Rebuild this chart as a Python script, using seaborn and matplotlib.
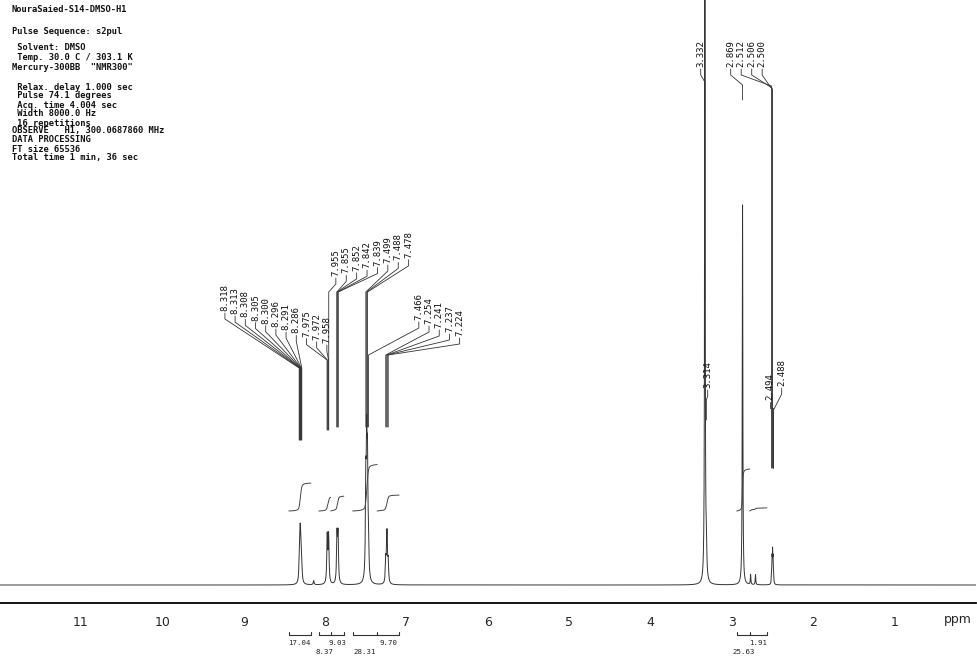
import numpy as np
import pandas as pd
import matplotlib
matplotlib.use("Agg")
import matplotlib.pyplot as plt
import seaborn as sns

sns.set_style("white")
plt.rcParams['font.family'] = ['DejaVu Sans']

# ---- acquisition header ----
header_lines = [
    "NouraSaied-S14-DMSO-H1",
    "Pulse Sequence: s2pul",
    " Solvent: DMSO",
    " Temp. 30.0 C / 303.1 K",
    "Mercury-300BB  \"NMR300\"",
    " Relax. delay 1.000 sec",
    " Pulse 74.1 degrees",
    " Acq. time 4.004 sec",
    " Width 8000.0 Hz",
    " 16 repetitions",
    "OBSERVE   H1, 300.0687860 MHz",
    "DATA PROCESSING",
    "FT size 65536",
    "Total time 1 min, 36 sec",
]
header_y = [10, 31, 47, 57, 67, 87, 96, 105, 114, 123, 131, 140, 149, 158]

# ---- peaks (ppm, height above baseline, half width) ----
peak_ppm = [8.318, 8.313, 8.308, 8.305, 8.300, 8.296, 8.291, 8.286, 8.14,
            7.975, 7.972, 7.958, 7.955,
            7.855, 7.852, 7.842, 7.839,
            7.499, 7.488, 7.478, 7.466,
            7.254, 7.241, 7.237, 7.224,
            3.332, 3.314, 2.869, 2.77, 2.71,
            2.512, 2.506, 2.500, 2.494, 2.488]
peak_height = [10, 15, 19, 21, 19, 15, 12, 9, 4,
               24, 26, 26, 24,
               24, 26, 26, 24,
               90, 120, 105, 30,
               22, 28, 28, 20,
               700, 30, 380, 10, 10,
               9, 22, 28, 22, 9]
peak_hwhm = [0.006] * 25 + [0.004, 0.006, 0.004, 0.004, 0.004] + [0.003] * 5

# ---- integral regions ----
int_start = [8.445, 8.076, 7.93, 7.66, 7.36, 2.94, 2.78]
int_end = [8.175, 7.93, 7.77, 7.36, 7.09, 2.78, 2.57]
int_value = [17.04, 8.37, 9.03, 28.31, 9.70, 25.63, 1.91]

# ---- peak label groups ----
label_groups = [
    dict(labels=["8.318", "8.313", "8.308", "8.305", "8.300", "8.296", "8.291", "8.286",
                 "7.975", "7.972", "7.958"],
         x0=225, dx=10.2, top0=283, dtop=3.2,
         conv=[368] * 8 + [360] * 3, end=[440] * 8 + [430] * 3),
    dict(labels=["7.955", "7.855", "7.852", "7.842", "7.839", "7.499", "7.488", "7.478"],
         x0=336, dx=10.4, top0=248, dtop=-2.6,
         conv=[292] * 8, end=[430] + [427] * 7),
    dict(labels=["7.466", "7.254", "7.241", "7.237", "7.224"],
         x0=419, dx=10.2, top0=292, dtop=4,
         conv=[355] * 5, end=[427] * 5),
    dict(labels=["3.332"], x0=701, dx=0, top0=39, dtop=0, conv=[82], end=[300]),
    dict(labels=["2.869", "2.512", "2.506", "2.500"],
         x0=731, dx=10.5, top0=39, dtop=0,
         conv=[85, 86, 88, 90], end=[100, 468, 468, 468]),
    dict(labels=["3.314"], x0=708, dx=0, top0=360, dtop=0, conv=[400], end=[420]),
    dict(labels=["2.494", "2.488"], x0=770, dx=12, top0=372, dtop=-14,
         conv=[408, 410], end=[468, 468]),
]

BASE = 585          # pixel row of spectrum baseline
INT_BASE = 74       # integral curves start height
INT_SCALE = 1.64    # px per integral unit


def px2ppm(x):
    return 11 - (x - 81) / 81.4


def py(y):
    return BASE - y


fig = plt.figure(figsize=(9.77, 6.59), dpi=100)
ax = fig.add_axes([0, 56 / 659, 976 / 977, 603 / 659])
ax.set_xlim(px2ppm(0), px2ppm(976))
ax.set_ylim(py(603), py(0))

# spectrum
ppm = np.arange(0.0, 12.0, 0.0005)
inten = np.zeros_like(ppm)
for p, h, w in zip(peak_ppm, peak_height, peak_hwhm):
    inten += h / (1 + ((ppm - p) / w) ** 2)
df = pd.DataFrame({'ppm': ppm, 'intensity': inten})
sns.lineplot(data=df, x='ppm', y='intensity', ax=ax, color='#333333',
             lw=0.7, estimator=None, sort=False)

# integral curves
for s, e, v in zip(int_start, int_end, int_value):
    m = (ppm <= s) & (ppm >= e)
    xs = ppm[m][::-1]
    cum = np.cumsum(inten[m][::-1])
    ax.plot(xs, INT_BASE + v * INT_SCALE * cum / cum[-1], color='#444444', lw=0.7)

# integral brackets below axis
groups = []
for i in range(len(int_start)):
    if groups and abs(int_end[groups[-1][-1]] - int_start[i]) < 1e-6:
        groups[-1].append(i)
    else:
        groups.append([i])
yb = py(635)
for g in groups:
    ax.plot([int_start[g[0]], int_end[g[-1]]], [yb, yb], color='#333333', lw=0.8, clip_on=False)
    bounds = [int_start[g[0]]] + [int_end[i] for i in g]
    for b in bounds:
        ax.plot([b, b], [yb, yb + 3], color='#333333', lw=0.8, clip_on=False)
    n = len(g)
    for j, i in enumerate(g):
        row = (n - 1 - j) % 2
        ax.text((int_start[i] + int_end[i]) / 2, py(643 + 9 * row), f"{int_value[i]:.2f}",
                ha='center', va='center', fontsize=5.3, family='DejaVu Sans Mono',
                color='#222222', clip_on=False)

# peak labels with leader lines
for grp in label_groups:
    for i, lab in enumerate(grp['labels']):
        lx = grp['x0'] + i * grp['dx']
        top = grp['top0'] + i * grp['dtop']
        bot = top + 28
        xl = px2ppm(lx)
        pk = float(lab)
        ax.text(xl, py(bot), lab, rotation=90, ha='center', va='bottom',
                fontsize=6.5, family='DejaVu Sans Mono', color='#111111')
        ax.plot([xl, xl, pk, pk],
                [py(bot + 2), py(bot + 8), py(grp['conv'][i]), py(grp['end'][i])],
                color='#333333', lw=0.6)

# header text
for line, y in zip(header_lines, header_y):
    fig.text(12 / 977, 1 - y / 659, line, ha='left', va='center',
             fontsize=6.3, family='DejaVu Sans Mono', fontweight='bold', color='#111111')

# axis styling
for side in ['top', 'left', 'right']:
    ax.spines[side].set_visible(False)
ax.spines['bottom'].set_linewidth(1.3)
ax.spines['bottom'].set_color('black')
ax.set_yticks([])
ax.set_xticks(np.arange(0, 12, 1))
ax.set_xticklabels([''] + [str(i) for i in range(1, 12)])
ax.set_xticks(np.arange(0, 12.0, 0.2), minor=True)
ax.tick_params(axis='x', which='major', direction='out', length=6, width=1,
               labelsize=9, pad=3.5)
ax.tick_params(axis='x', which='minor', direction='out', length=3.5, width=0.8)
ax.set_xlabel('')
ax.set_ylabel('')
ax.text(px2ppm(958), py(619), 'ppm', ha='center', va='center', fontsize=9, clip_on=False)

fig.savefig('out.png', dpi=100)
